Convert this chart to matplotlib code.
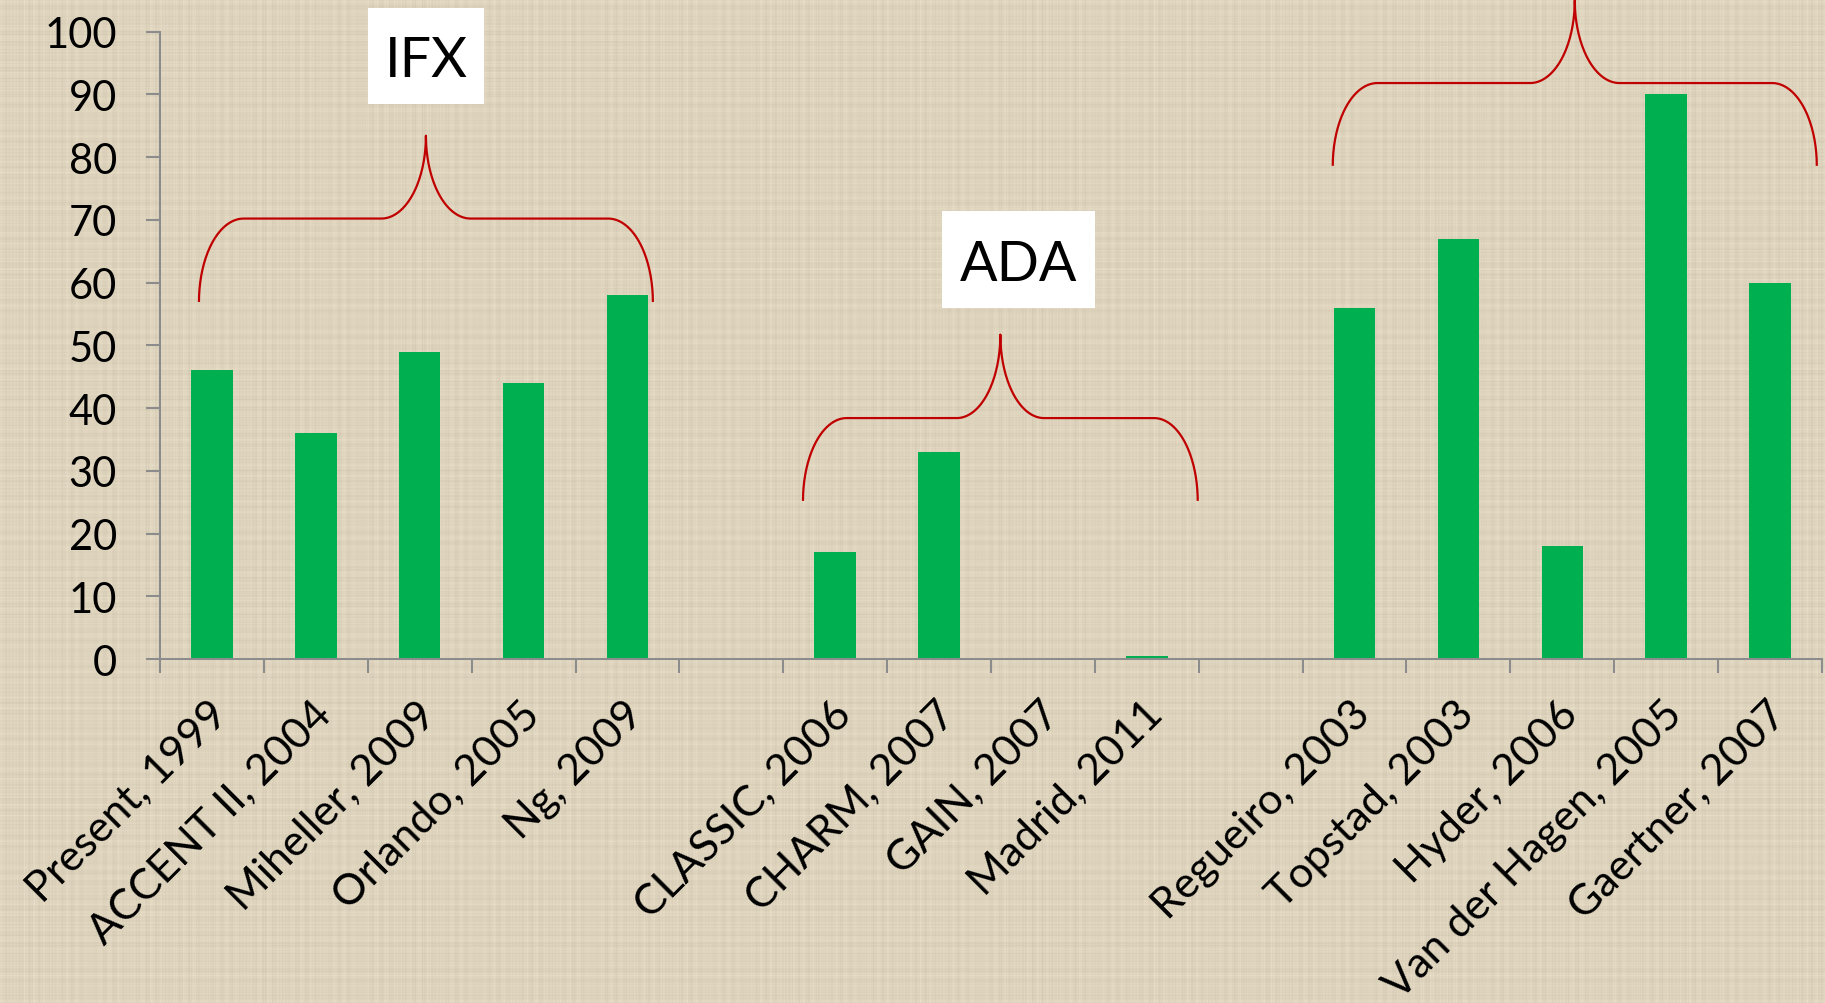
import numpy as np
import matplotlib
matplotlib.use("Agg")
import matplotlib.pyplot as plt
import matplotlib.transforms as mtransforms
from matplotlib.patches import Rectangle

plt.rcParams['font.family'] = ['Lato', 'DejaVu Sans']

# Studies and their response rates (%); empty strings are spacer slots between groups
studies = ["Present, 1999", "ACCENT II, 2004", "Miheller, 2009", "Orlando, 2005", "Ng, 2009",
           "",
           "CLASSIC, 2006", "CHARM, 2007", "GAIN, 2007", "Madrid, 2011",
           "",
           "Regueiro, 2003", "Topstad, 2003", "Hyder, 2006", "Van der Hagen, 2005", "Gaertner, 2007"]
rates = [46, 36, 49, 44, 58,
         0,
         17, 33, 0, 0.4,
         0,
         56, 67, 18, 90, 60]
group_labels = ["IFX", "ADA"]
y_ticks = list(range(0, 101, 10))

BG = (222, 212, 190)
GREEN = "#00B050"
AXIS = "#8C8C8C"
RED = "#C00000"

W, H = 1825, 1004
fig = plt.figure(figsize=(W / 100, H / 100), dpi=100,
                 facecolor=tuple(c / 255 for c in BG))

# linen-style background: irregular light/dark thread bands in both directions
rows = np.arange(H)[:, None].astype(float)
cols = np.arange(W)[None, :].astype(float)
row_band = (np.sin(rows * 0.61) * np.sin(rows * 0.0937 + 1.3)
            + 0.7 * np.sin(rows * 1.73 + 0.4) * np.sin(rows * 0.0291)
            + 0.5 * np.sin(rows * 2.41 + 2.2) * np.sin(rows * 0.0173 + 0.5))
col_band = (np.sin(cols * 0.67 + 0.7) * np.sin(cols * 0.0813 + 2.1)
            + 0.7 * np.sin(cols * 1.91) * np.sin(cols * 0.0247 + 0.9)
            + 0.5 * np.sin(cols * 2.63 + 1.1) * np.sin(cols * 0.0151 + 1.7))
weave = 4.0 * row_band + 4.0 * col_band
tex = np.clip(np.array(BG)[None, None, :] + weave[..., None], 0, 255) / 255.0
fig.figimage(tex, xo=0, yo=0, origin="upper", zorder=-5)

ax = fig.add_axes([160 / W, (H - 660) / H, (1822 - 160) / W, (660 - 32.6) / H])
ax.set_zorder(1)
ax.set_facecolor("none")

x = np.arange(len(studies))
ax.bar(x, rates, width=0.40, color=GREEN, zorder=2)

ax.set_xlim(-0.5, len(studies) - 0.5)
ax.set_ylim(0, 100)

for s in ["top", "right"]:
    ax.spines[s].set_visible(False)
for s in ["left", "bottom"]:
    ax.spines[s].set_color(AXIS)
    ax.spines[s].set_linewidth(1.5)

ax.set_yticks(y_ticks)
ax.set_yticklabels([str(v) for v in y_ticks])
ax.tick_params(axis="y", direction="out", length=10, width=1.5, color=AXIS,
               labelsize=30, pad=21, labelcolor="black")

# category boundary ticks, labels centred under bars
ax.set_xticks(np.arange(-0.5, len(studies)), minor=True)
ax.set_xticks(x)
ax.set_xticklabels(studies, rotation=45, ha="right", va="top",
                   rotation_mode="anchor")
ax.tick_params(axis="x", which="minor", direction="out", length=10, width=1.5, color=AXIS)
ax.tick_params(axis="x", which="major", length=0, labelsize=31, pad=25, labelcolor="black")
shift = mtransforms.ScaledTranslation(-4 / 100, 0, fig.dpi_scale_trans)
for lab in ax.get_xticklabels():
    lab.set_transform(lab.get_transform() + shift)


def brace(xl, xc, xr, y_end, y_flat, y_tip, rx):
    """Curly brace opening downward, tip pointing up at xc."""
    t = np.linspace(0, np.pi / 2, 60)
    ry1 = y_flat - y_end
    ry2 = y_tip - y_flat
    # left end: rises vertically then bends to horizontal
    lx1 = xl + rx - rx * np.cos(t)
    ly1 = y_end + ry1 * np.sin(t)
    # left half of middle: horizontal bending up into the cusp
    lx2 = xc - rx + rx * np.sin(t)
    ly2 = y_tip - ry2 * np.cos(t)
    left_x = np.concatenate([lx1, lx2])
    left_y = np.concatenate([ly1, ly2])
    right_x = 2 * xc - left_x[::-1]
    right_y = left_y[::-1]
    bx = np.concatenate([left_x, right_x])
    by = np.concatenate([left_y, right_y])
    ax.plot(bx, by, color=RED, lw=1.6, clip_on=False, zorder=3,
            solid_capstyle="butt")


brace(-0.125, 2.06, 4.24, 56.9, 70.2, 83.4, 0.43)
brace(5.69, 7.59, 9.48, 25.2, 38.4, 51.7, 0.42)
brace(10.79, 13.12, 15.44, 78.6, 91.8, 105.0, 0.43)

# group name boxes
boxes = [(1.50, 88.5, 1.12, 15.3), (7.03, 56.0, 1.47, 15.45)]
for name, (bx0, by0, bw, bh) in zip(group_labels, boxes):
    ax.add_patch(Rectangle((bx0, by0), bw, bh, facecolor="white", edgecolor="none",
                           clip_on=False, zorder=4))
    ax.text(bx0 + bw / 2, by0 + bh / 2, name, ha="center", va="center_baseline",
            fontsize=40, color="black", zorder=5)

fig.savefig("out.png", dpi=100, facecolor=fig.get_facecolor())
